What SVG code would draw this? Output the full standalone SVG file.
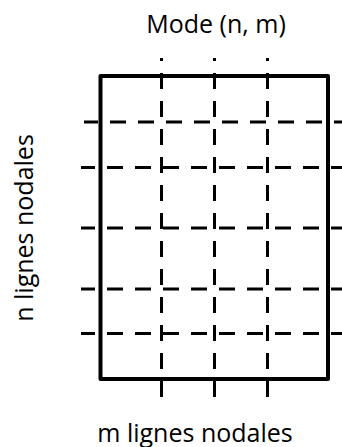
<svg xmlns="http://www.w3.org/2000/svg" width="342" height="447" viewBox="0 0 342 447">
<style>
  .lbl { font-family: "Open Sans", "Liberation Sans", sans-serif; font-size: 25px; fill: #000; text-anchor: middle; }
  .frame { fill: none; stroke: #000; stroke-width: 4; stroke-linejoin: round; }
  .hn { stroke: #000; stroke-width: 3; stroke-dasharray: 16 12; stroke-dashoffset: 2; fill: none; }
  .vn { stroke: #000; stroke-width: 3; stroke-dasharray: 16 12; stroke-dashoffset: 13; fill: none; }
</style>
<rect width="342" height="447" fill="#fff"/>
<g id="title">
  <text class="lbl" x="216" y="33" font-size="26">Mode (n, m)</text>
</g>
<g id="plate">
  <rect class="frame" x="100.5" y="76" width="227.5" height="303"/>
</g>
<g id="nodal-lines">
  <line class="hn" x1="84" y1="122" x2="342" y2="122"/>
  <line class="hn" x1="81" y1="167.5" x2="342" y2="167.5"/>
  <line class="hn" x1="81" y1="228" x2="342" y2="228"/>
  <line class="hn" x1="81" y1="289" x2="342" y2="289"/>
  <line class="hn" x1="81" y1="333.5" x2="342" y2="333.5"/>
  <line class="vn" x1="161.5" y1="58" x2="161.5" y2="397"/>
  <line class="vn" x1="214.5" y1="58" x2="214.5" y2="397"/>
  <line class="vn" x1="267.5" y1="58" x2="267.5" y2="397"/>
</g>
<g id="label-m">
  <text class="lbl" x="195" y="441.5">m lignes nodales</text>
</g>
<g id="label-n">
  <text class="lbl" transform="translate(33,228) rotate(-90)" x="0" y="0">n lignes nodales</text>
</g>
</svg>
